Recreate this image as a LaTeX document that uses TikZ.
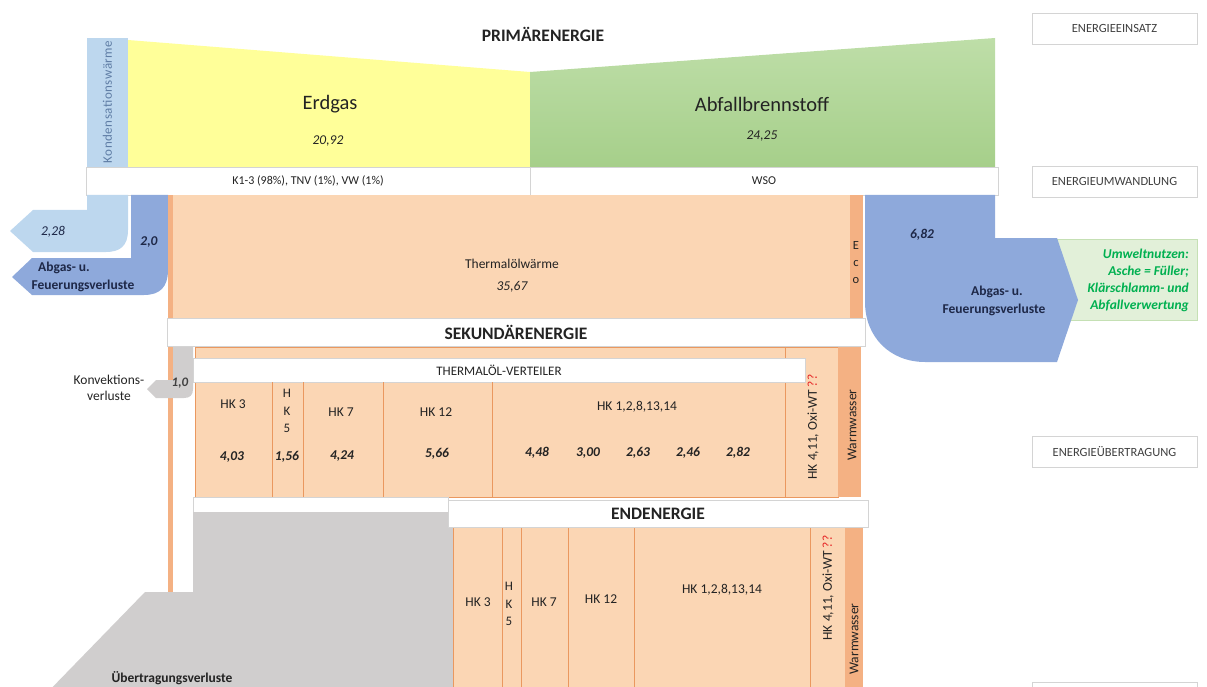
\documentclass[tikz,border=0pt]{standalone}
\usepackage{fontspec}
\setmainfont{Carlito}
\begin{document}
\definecolor{kblue}{RGB}{189,215,238}
\definecolor{dblue}{RGB}{142,169,219}
\definecolor{yel}{RGB}{255,255,153}
\definecolor{grn}{RGB}{166,207,138}
\definecolor{grnl}{RGB}{190,222,168}
\definecolor{peach}{RGB}{251,214,180}
\definecolor{dor}{RGB}{244,177,131}
\definecolor{divor}{RGB}{234,152,95}
\definecolor{lgray}{RGB}{208,206,206}
\definecolor{lgrn}{RGB}{226,240,217}
\definecolor{lgrnb}{RGB}{197,224,180}
\definecolor{tgrn}{RGB}{0,176,80}
\definecolor{navy}{RGB}{30,40,72}
\definecolor{txt}{RGB}{35,35,35}
\definecolor{boxgray}{RGB}{212,212,212}
\definecolor{ktext}{RGB}{95,125,165}
\definecolor{qred}{RGB}{230,40,40}
\begin{tikzpicture}[x=1pt,y=-1pt,
  every node/.style={inner sep=0pt, text=txt},
  lab/.style={font=\fontsize{13.5}{16}\selectfont},
  val/.style={font=\fontsize{13.5}{16}\selectfont\itshape\bfseries},
  head/.style={font=\fontsize{17.5}{20}\selectfont\bfseries},
  big/.style={font=\fontsize{20.5}{24}\selectfont},
  wbox/.style={draw=boxgray, fill=white, line width=0.7pt},
  side/.style={wbox, minimum width=165pt, minimum height=31pt, font=\fontsize{12.5}{15}\selectfont, text=black!75},
  peachfill/.style={fill=peach, draw=divor, line width=0.6pt},
  divline/.style={draw=divor, line width=1pt},
  loss/.style={font=\fontsize{13.5}{16}\selectfont\bfseries, text=navy},
  lossval/.style={font=\fontsize{13.5}{16}\selectfont\itshape\bfseries, text=navy}
]
\useasboundingbox (0,0) rectangle (1207,687);
\begin{scope}
\clip (0,0) rectangle (1207,687);

% ---------- primary energy ----------
\fill[kblue] (87,38) rectangle (128,167);
\fill[yel] (128,40) -- (530,72) -- (530,167) -- (128,167) -- cycle;
\shade[top color=grnl, bottom color=grn] (530,72) -- (995,38) -- (995,167) -- (530,167) -- cycle;

\node[head] (prim) at (543,34) {PRIMÄRENERGIE};
\node[font=\fontsize{13}{15}\selectfont\addfontfeature{LetterSpace=4}, text=ktext, rotate=90] (kond) at (107.5,102) {Kondensationswärme};
\node[big] (erdgas) at (330,104) {Erdgas};
\node[font=\fontsize{13.5}{16}\selectfont\itshape] (erdv) at (328,141) {20,92};
\node[big] (abfall) at (762,104) {Abfallbrennstoff};
\node[font=\fontsize{13.5}{16}\selectfont\itshape] (abfv) at (762,136) {24,25};

% conversion row
\node[wbox, lab, minimum width=444pt, minimum height=28pt, font=\fontsize{12}{14}\selectfont] (k13) at (308,181) {K1-3 (98\%), TNV (1\%), VW (1\%)};
\node[wbox, lab, minimum width=468pt, minimum height=28pt, font=\fontsize{12}{14}\selectfont] (wso) at (764,181) {WSO};

% ---------- left losses ----------
\fill[kblue] (87,195) -- (128,195) -- (128,230) .. controls (128,246) and (120,252) .. (106,252)
  -- (33,252) -- (10,231) -- (33,210) -- (87,210) -- cycle;
\fill[dblue] (131,195) -- (168,195) -- (168,270) .. controls (168,287) and (160,295) .. (144,295)
  -- (32,295) -- (12,277) -- (32,258) -- (131,258) -- cycle;
\node[font=\fontsize{13.5}{16}\selectfont\itshape, text=navy] (v228) at (53,232) {2,28};
\node[lossval] (v20) at (149,242) {2,0};
\node[loss] (abgl1) at (64,268) {Abgas- u.};
\node[loss] (abgl2) at (83,286) {Feuerungsverluste};

% ---------- thermal oil ----------
\fill[dor] (168,195) rectangle (173,592);
\fill[peach] (173,195) rectangle (850,318);
\fill[dor] (850,195) rectangle (863,318);
\node[lab] (thermal) at (512,264) {Thermalölwärme};
\node[font=\fontsize{13.5}{16}\selectfont\itshape] (thermv) at (512,287) {35,67};
\node[lab, align=center, font=\fontsize{12.5}{17}\selectfont] (eco) at (856,263) {E\\c\\o};

% ---------- right losses ----------
\fill[lgrn, draw=lgrnb, line width=0.8pt] (1057,239) rectangle (1197,320);
\fill[dblue] (865,195) -- (995,195) -- (995,238) -- (1057,238) -- (1078,300) -- (1057,362)
  -- (925,362) .. controls (890,362) and (865,337) .. (865,302) -- cycle;
\node[lossval] (v682) at (922,235) {6,82};
\node[loss] (abgr1) at (997,292) {Abgas- u.};
\node[loss] (abgr2) at (994,310) {Feuerungsverluste};
\node[font=\fontsize{13.5}{17}\selectfont\itshape\bfseries, text=tgrn, align=right, anchor=east] (umwelt) at (1189,280)
  {Umweltnutzen:\\Asche = Füller;\\Klärschlamm- und\\Abfallverwertung};

% ---------- secondary energy ----------
\node[wbox, head, minimum width=698pt, minimum height=28pt] (sek) at (516,332) {SEKUNDÄRENERGIE};

\fill[peachfill] (195,347) rectangle (838,497);
\fill[dor] (838,347) rectangle (861,497);
\draw[divline] (785,347) -- (785,497);

% convection loss
\fill[lgray] (173,347) -- (193,347) -- (193,389) .. controls (193,395) and (190,398) .. (184,398)
  -- (156,398) -- (147,389) -- (156,380) -- (173,380) -- cycle;
\node[font=\fontsize{13}{15}\selectfont\itshape\bfseries, text=black!75] (v10) at (180,383) {1,0};
\node[lab, align=center, font=\fontsize{13.5}{16}\selectfont] (konv) at (109,388) {Konvektions-\\verluste};

\node[wbox, minimum width=612pt, minimum height=24pt, font=\fontsize{13}{15}\selectfont] (vert) at (499,370) {THERMALÖL-VERTEILER};

\draw[divline] (272,382) -- (272,497);
\draw[divline] (303,382) -- (303,497);
\draw[divline] (383,382) -- (383,497);
\draw[divline] (492,382) -- (492,497);

\node[lab] (u3) at (233,404) {HK 3};
\node[lab, align=center, font=\fontsize{13}{17.5}\selectfont] (u5) at (287,411) {H\\K\\5};
\node[lab] (u7) at (341,412) {HK 7};
\node[lab] (u12) at (436,412) {HK 12};
\node[lab] (u1) at (637,407) {HK 1,2,8,13,14};
\node[val] (u3v) at (232,457) {4,03};
\node[val] (u5v) at (287,457) {1,56};
\node[val] (u7v) at (342,456) {4,24};
\node[val] (u12v) at (437,454) {5,66};
\node[val] (u1v) at (537,453) {4,48};
\node[val] (u2v) at (588,453) {3,00};
\node[val] (u8v) at (638,453) {2,63};
\node[val] (u13v) at (688,453) {2,46};
\node[val] (u14v) at (738,453) {2,82};
\node[lab, rotate=90] (u4) at (813,427) {HK 4,11, Oxi-WT \textcolor{qred}{??}};
\node[lab, rotate=90] (uw) at (852,425) {Warmwasser};

% ---------- transfer losses ----------
\node[wbox, minimum width=255pt, minimum height=15pt] (wstrip) at (320.5,504.5) {};
\fill[lgray] (193,512) -- (453,512) -- (453,700) -- (40,700) -- (145,592) -- (193,592) -- cycle;
\node[font=\fontsize{13.5}{16}\selectfont\bfseries, anchor=base] (uebert) at (172,682) {Übertragungsverluste};

% ---------- final energy ----------
\fill[peachfill] (453,527) rectangle (845,700);
\fill[dor] (845,527) rectangle (863,700);
\draw[divline] (502,527) -- (502,700);
\draw[divline] (521,527) -- (521,700);
\draw[divline] (568,527) -- (568,700);
\draw[divline] (634,527) -- (634,700);
\draw[divline] (810,527) -- (810,700);
\node[wbox, head, minimum width=420pt, minimum height=27pt] (end) at (658,513.5) {ENDENERGIE};

\node[lab] (l3) at (478,602) {HK 3};
\node[lab, align=center, font=\fontsize{13}{17.5}\selectfont] (l5) at (509,604) {H\\K\\5};
\node[lab] (l7) at (544,602) {HK 7};
\node[lab] (l12) at (601,599) {HK 12};
\node[lab] (l1) at (722,590) {HK 1,2,8,13,14};
\node[lab, rotate=90] (l4) at (828,588) {HK 4,11, Oxi-WT \textcolor{qred}{??}};
\node[lab, rotate=90] (lw) at (854,639) {Warmwasser};

% ---------- side labels ----------
\node[side] (s1) at (1114.5,28.5) {ENERGIEEINSATZ};
\node[side] (s2) at (1114.5,181.5) {ENERGIEUMWANDLUNG};
\node[side] (s3) at (1114.5,452) {ENERGIEÜBERTRAGUNG};
\node[side] (s4) at (1114.5,698) {};
\end{scope}
\end{tikzpicture}
\end{document}
